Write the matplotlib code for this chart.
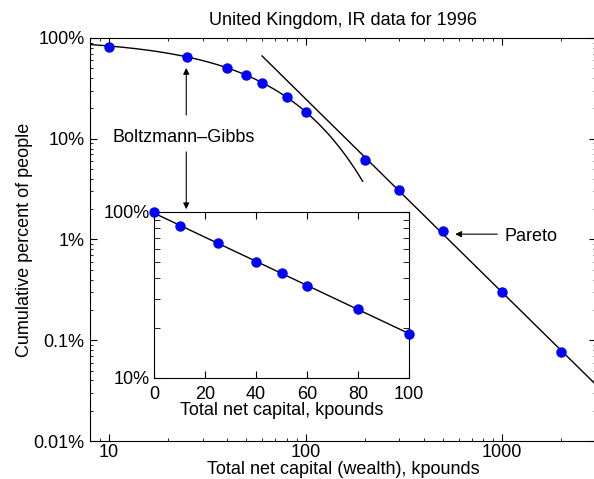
import numpy as np
import matplotlib
matplotlib.use('Agg')
import matplotlib.pyplot as plt
from matplotlib.ticker import FixedLocator, LogLocator, NullFormatter

plt.rcParams['font.family'] = ['Liberation Sans', 'DejaVu Sans']
plt.rcParams['font.size'] = 13

# data: wealth (kpounds) and cumulative percent of people
x_bg = np.array([0, 10, 25, 40, 50, 60, 80, 100])
y_bg = np.array([100, 82, 65, 50, 43, 36, 26, 18.5])
x_par = np.array([200, 300, 500, 1000, 2000])
y_par = np.array([6.15, 3.1, 1.21, 0.30, 0.076])

ytick_vals = [0.01, 0.1, 1, 10, 100]
ytick_labels = ['0.01%', '0.1%', '1%', '10%', '100%']
inset_xticks = [0, 20, 40, 60, 80, 100]

# exponential fit (Boltzmann-Gibbs) and power law fit (Pareto)
p_bg = np.polyfit(x_bg, np.log(y_bg), deg=1)
p_par = np.polyfit(np.log10(x_par), np.log10(y_par), deg=1)

def bg(x):
    return np.exp(np.polyval(p_bg, x))

def pareto(x):
    return 10**np.polyval(p_par, np.log10(x))

fig = plt.figure(figsize=(5.94, 4.79), dpi=100)
ax = fig.add_axes([90/594, 1-441/479, 506/594, 403/479])

z1 = np.logspace(np.log10(8), np.log10(195), 200)
z2 = np.logspace(np.log10(60), np.log10(3000), 50)
ax.plot(z1, bg(z1), 'k-', lw=1)
ax.plot(z2, pareto(z2), 'k-', lw=1)
ax.plot(x_bg[1:], y_bg[1:], 'o', color='#0000ff', ms=6.5, mec='#0000ff')
ax.plot(x_par, y_par, 'o', color='#0000ff', ms=6.5, mec='#0000ff')

ax.set_xscale('log')
ax.set_yscale('log')
ax.set_xlim(8, 3000)
ax.set_ylim(0.01, 100)
ax.set_yticks(ytick_vals)
ax.set_yticklabels(ytick_labels)
ax.set_xticks([10, 100, 1000])
ax.set_xticklabels(['10', '100', '1000'])
ax.xaxis.set_minor_locator(LogLocator(base=10, subs=np.arange(2, 10)))
ax.yaxis.set_minor_locator(LogLocator(base=10, subs=np.arange(2, 10)))
ax.xaxis.set_minor_formatter(NullFormatter())
ax.yaxis.set_minor_formatter(NullFormatter())
ax.tick_params(which='both', direction='in', top=True, right=True)
ax.tick_params(which='major', length=5, pad=4)
ax.tick_params(axis='x', which='major', pad=2.5)
ax.tick_params(which='minor', length=2.5)
ax.set_xlabel('Total net capital (wealth), kpounds', labelpad=-0.5)
ax.set_ylabel('Cumulative percent of people', labelpad=0.5)
ax.set_title('United Kingdom, IR data for 1996', pad=9, fontsize=13)

# annotations
ax.text(24, 10.2, 'Boltzmann\u2013Gibbs', ha='center', va='center')
arr = dict(arrowstyle='-|>', color='k', lw=0.8, mutation_scale=9, shrinkA=0, shrinkB=0)
ax.annotate('', xy=(24.7, 50.4), xytext=(24.7, 17.2), arrowprops=arr)
ax.annotate('', xy=(24.7, 2.0), xytext=(24.7, 7.4), arrowprops=arr)
ax.annotate('', xy=(577, 1.13), xytext=(944, 1.13), arrowprops=arr)
ax.text(1030, 1.08, 'Pareto', ha='left', va='center')

# inset, linear x
ins = fig.add_axes([154/594, 1-378/479, 255/594, 166/479])
z3 = np.linspace(0, 100, 100)
ins.plot(z3, bg(z3), 'k-', lw=1)
ins.plot(x_bg, y_bg, 'o', color='#0000ff', ms=6.5, mec='#0000ff', clip_on=False, zorder=5)
ins.set_yscale('log')
ins.set_xlim(0, 100)
ins.set_ylim(10, 100)
ins.set_xticks(inset_xticks)
ins.set_yticks([10, 100])
ins.set_yticklabels(['10%', '100%'])
ins.yaxis.set_minor_locator(FixedLocator(np.arange(20, 100, 10)))
ins.yaxis.set_minor_formatter(NullFormatter())
ins.tick_params(which='both', direction='in', top=True, right=True)
ins.tick_params(which='major', length=5, pad=3)
ins.tick_params(axis='x', which='major', pad=6)
ins.tick_params(which='minor', length=4)
ins.set_xlabel('Total net capital, kpounds', labelpad=-1)

fig.savefig('out.png', dpi=100)
